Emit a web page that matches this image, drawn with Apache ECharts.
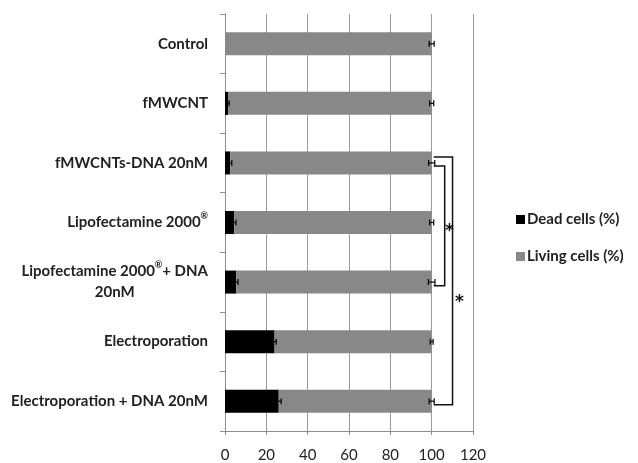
<!DOCTYPE html>
<html>
<head>
<meta charset="utf-8">
<script src="https://cdn.jsdelivr.net/npm/echarts@6/dist/echarts.min.js"></script>
<style>
  html, body { margin: 0; padding: 0; background: #fff; }
  #chart { width: 638px; height: 463px; }
</style>
</head>
<body>
<div id="chart"></div>
<script>
var categories = ['Control', 'fMWCNT', 'fMWCNTs-DNA 20nM', 'Lipofectamine 2000®',
    'Lipofectamine 2000®+ DNA\n20nM', 'Electroporation', 'Electroporation + DNA 20nM'];
var deadCells = [0, 1.5, 2.5, 4.5, 5.5, 24, 26];
var deadErr = [0, 0.5, 0.8, 0.8, 0.8, 0.8, 1.2];
var livingCells = [100, 98.5, 97.5, 95.5, 94.5, 76, 74];
var livingErr = [1.2, 1.0, 1.5, 1.0, 1.6, 0.7, 1.2];
var xTicks = [0, 20, 40, 60, 80, 100, 120];
// brackets: [xStart, xEnd, catTop, catBottom, starX, starCat]
var brackets = [
    [101, 106.3, 2.05, 4.06, 108.6, 3.05],
    [101, 110.1, 1.9, 6.06, 113.4, 4.25]
];

var dom = document.getElementById('chart');
var myChart = echarts.init(dom);

var fontName = 'Lato';

// error data per category: [categoryIndex, dead, deadErr, total, livingErr]
var errData = [];
for (var i = 0; i < categories.length; i++) {
    errData.push([i, deadCells[i], deadErr[i], deadCells[i] + livingCells[i], livingErr[i]]);
}

function hShape(lo, hi) {
    var h = 3;
    var st = { stroke: '#000', lineWidth: 1.2 };
    return [
        { type: 'line', shape: { x1: lo[0], y1: lo[1], x2: hi[0], y2: hi[1] }, style: st },
        { type: 'line', shape: { x1: lo[0], y1: lo[1] - h, x2: lo[0], y2: lo[1] + h }, style: st },
        { type: 'line', shape: { x1: hi[0], y1: hi[1] - h, x2: hi[0], y2: hi[1] + h }, style: st }
    ];
}

function renderError(params, api) {
    var cat = api.value(0);
    var kids = [];
    var d = api.value(1), de = api.value(2), t = api.value(3), te = api.value(4);
    if (de > 0) {
        kids = kids.concat(hShape(api.coord([d - de, cat]), api.coord([d + de, cat])));
    }
    kids = kids.concat(hShape(api.coord([t - te, cat]), api.coord([t + te, cat])));
    return { type: 'group', children: kids };
}

// category axis rounds fractional values, so add the fraction of a band by hand
function catPoint(api, x, v) {
    var k = Math.round(v);
    var p = api.coord([x, k]);
    var band = Math.abs(api.size([0, 1])[1]);
    return [p[0], p[1] + (v - k) * band];
}

function renderBracket(params, api) {
    var a = catPoint(api, api.value(0), api.value(2));
    var b = catPoint(api, api.value(1), api.value(2));
    var c = catPoint(api, api.value(1), api.value(3));
    var d = catPoint(api, api.value(0), api.value(3));
    var s = catPoint(api, api.value(4), api.value(5));
    return {
        type: 'group',
        children: [
            {
                type: 'polyline',
                shape: { points: [a, b, c, d] },
                style: { stroke: '#111', lineWidth: 1.5, fill: null }
            },
            {
                type: 'text',
                x: s[0], y: s[1] + 6,
                style: {
                    text: '*', fill: '#111', fontSize: 17, fontWeight: 'bold',
                    fontFamily: 'DejaVu Sans', align: 'center', verticalAlign: 'middle'
                }
            }
        ]
    };
}

var labelRich = {
    n: { fontFamily: fontName, fontWeight: 'bold', fontSize: 15, color: '#222', lineHeight: 21 },
    c: { fontFamily: fontName, fontWeight: 'bold', fontSize: 15, color: '#222', lineHeight: 21, align: 'center' },
    sup: { fontFamily: fontName, fontWeight: 'bold', fontSize: 9, color: '#222', verticalAlign: 'top', lineHeight: 14 }
};

option = {
    animation: false,
    backgroundColor: '#fff',
    grid: { left: 225, right: 165, top: 14, bottom: 31 },
    legend: {
        orient: 'vertical',
        left: 511,
        top: 207,
        itemWidth: 9,
        itemHeight: 9,
        itemGap: 22,
        icon: 'rect',
        textStyle: { fontFamily: fontName, fontWeight: 'bold', fontSize: 15, color: '#222', padding: [0, 0, 0, -3] },
        data: ['Dead cells (%)', 'Living cells (%)']
    },
    xAxis: {
        type: 'value',
        min: xTicks[0],
        max: xTicks[xTicks.length - 1],
        interval: 20,
        axisLine: { show: true, lineStyle: { color: '#8c8c8c', width: 1 } },
        axisTick: { show: true, length: 4, lineStyle: { color: '#8c8c8c' } },
        splitLine: { show: true, lineStyle: { color: '#9a9a9a', width: 1 } },
        axisLabel: { fontFamily: fontName, fontSize: 15, color: '#222', margin: 17 }
    },
    yAxis: {
        type: 'category',
        inverse: true,
        data: categories,
        axisLine: { show: true, lineStyle: { color: '#8c8c8c', width: 1 } },
        axisTick: { show: true, length: 5, lineStyle: { color: '#8c8c8c' } },
        axisLabel: {
            margin: 17,
            fontFamily: fontName, fontWeight: 'bold', fontSize: 15, color: '#222',
            lineHeight: 21,
            formatter: function (val) {
                var lines = val.split('\n');
                return lines.map(function (ln, k) {
                    if (k > 0) return '{c|' + ln + '}';
                    var parts = ln.split('®');
                    var out = '{n|' + parts[0] + '}';
                    for (var p = 1; p < parts.length; p++) {
                        out += '{sup|®}' + (parts[p] ? '{n|' + parts[p] + '}' : '');
                    }
                    return out;
                }).join('\n');
            },
            rich: labelRich
        }
    },
    series: [
        {
            name: 'Dead cells (%)',
            type: 'bar',
            stack: 'cells',
            barWidth: 23,
            itemStyle: { color: '#000' },
            data: deadCells
        },
        {
            name: 'Living cells (%)',
            type: 'bar',
            stack: 'cells',
            barWidth: 23,
            itemStyle: { color: '#888888' },
            data: livingCells
        },
        {
            type: 'custom',
            renderItem: renderError,
            encode: { x: [1, 3], y: 0 },
            data: errData,
            clip: false,
            z: 10
        },
        {
            type: 'custom',
            renderItem: renderBracket,
            encode: { x: [0, 1], y: 2 },
            data: brackets,
            clip: false,
            z: 10
        }
    ]
};

myChart.setOption(option);
</script>
</body>
</html>
